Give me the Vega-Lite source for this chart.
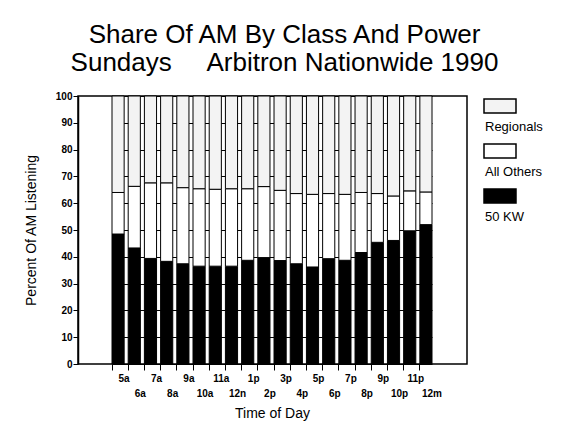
{
  "$schema": "https://vega.github.io/schema/vega-lite/v6.json",
  "width": 389,
  "height": 268,
  "autosize": {"type": "none"},
  "padding": {"left": 78, "top": 96, "right": 110, "bottom": 66},
  "background": "white",
  "config": {
    "font": "Liberation Sans",
    "view": {"stroke": "black", "strokeWidth": 1.5}
  },
  "title": {
    "text": ["Share Of AM By Class And Power", "Sundays\u00a0\u00a0\u00a0\u00a0 Arbitron Nationwide 1990"],
    "fontSize": 26,
    "font": "Liberation Sans",
    "fontWeight": "normal",
    "lineHeight": 28,
    "anchor": "middle",
    "dx": 12,
    "offset": 13,
    "color": "black"
  },
  "data": {
    "values": [
      {"time": "5a", "cls": "50 KW", "pct": 48.5}, {"time": "5a", "cls": "All Others", "pct": 15.5}, {"time": "5a", "cls": "Regionals", "pct": 36.0},
      {"time": "6a", "cls": "50 KW", "pct": 43.3}, {"time": "6a", "cls": "All Others", "pct": 23.0}, {"time": "6a", "cls": "Regionals", "pct": 33.7},
      {"time": "7a", "cls": "50 KW", "pct": 39.4}, {"time": "7a", "cls": "All Others", "pct": 28.2}, {"time": "7a", "cls": "Regionals", "pct": 32.4},
      {"time": "8a", "cls": "50 KW", "pct": 38.3}, {"time": "8a", "cls": "All Others", "pct": 29.3}, {"time": "8a", "cls": "Regionals", "pct": 32.4},
      {"time": "9a", "cls": "50 KW", "pct": 37.4}, {"time": "9a", "cls": "All Others", "pct": 28.4}, {"time": "9a", "cls": "Regionals", "pct": 34.2},
      {"time": "10a", "cls": "50 KW", "pct": 36.5}, {"time": "10a", "cls": "All Others", "pct": 28.9}, {"time": "10a", "cls": "Regionals", "pct": 34.6},
      {"time": "11a", "cls": "50 KW", "pct": 36.5}, {"time": "11a", "cls": "All Others", "pct": 28.7}, {"time": "11a", "cls": "Regionals", "pct": 34.8},
      {"time": "12n", "cls": "50 KW", "pct": 36.5}, {"time": "12n", "cls": "All Others", "pct": 28.9}, {"time": "12n", "cls": "Regionals", "pct": 34.6},
      {"time": "1p", "cls": "50 KW", "pct": 38.7}, {"time": "1p", "cls": "All Others", "pct": 26.7}, {"time": "1p", "cls": "Regionals", "pct": 34.6},
      {"time": "2p", "cls": "50 KW", "pct": 39.7}, {"time": "2p", "cls": "All Others", "pct": 26.5}, {"time": "2p", "cls": "Regionals", "pct": 33.8},
      {"time": "3p", "cls": "50 KW", "pct": 38.6}, {"time": "3p", "cls": "All Others", "pct": 26.2}, {"time": "3p", "cls": "Regionals", "pct": 35.2},
      {"time": "4p", "cls": "50 KW", "pct": 37.4}, {"time": "4p", "cls": "All Others", "pct": 26.2}, {"time": "4p", "cls": "Regionals", "pct": 36.4},
      {"time": "5p", "cls": "50 KW", "pct": 36.2}, {"time": "5p", "cls": "All Others", "pct": 27.1}, {"time": "5p", "cls": "Regionals", "pct": 36.7},
      {"time": "6p", "cls": "50 KW", "pct": 39.3}, {"time": "6p", "cls": "All Others", "pct": 24.3}, {"time": "6p", "cls": "Regionals", "pct": 36.4},
      {"time": "7p", "cls": "50 KW", "pct": 38.7}, {"time": "7p", "cls": "All Others", "pct": 24.6}, {"time": "7p", "cls": "Regionals", "pct": 36.7},
      {"time": "8p", "cls": "50 KW", "pct": 41.6}, {"time": "8p", "cls": "All Others", "pct": 22.4}, {"time": "8p", "cls": "Regionals", "pct": 36.0},
      {"time": "9p", "cls": "50 KW", "pct": 45.4}, {"time": "9p", "cls": "All Others", "pct": 18.2}, {"time": "9p", "cls": "Regionals", "pct": 36.4},
      {"time": "10p", "cls": "50 KW", "pct": 46.1}, {"time": "10p", "cls": "All Others", "pct": 16.6}, {"time": "10p", "cls": "Regionals", "pct": 37.3},
      {"time": "11p", "cls": "50 KW", "pct": 49.7}, {"time": "11p", "cls": "All Others", "pct": 14.9}, {"time": "11p", "cls": "Regionals", "pct": 35.4},
      {"time": "12m", "cls": "50 KW", "pct": 52.0}, {"time": "12m", "cls": "All Others", "pct": 12.2}, {"time": "12m", "cls": "Regionals", "pct": 35.8}
    ]
  },
  "mark": {"type": "bar", "stroke": "black", "strokeWidth": 1},
  "encoding": {
    "x": {
      "field": "time",
      "type": "nominal",
      "sort": null,
      "scale": {"paddingInner": 0.25, "paddingOuter": 0, "range": [34, 354]},
      "axis": {
        "title": "Time of Day",
        "bandPosition": 0,
        "labelAngle": 0,
        "labelOverlap": false,
        "domain": false,
        "ticks": true,
        "tickSize": 6,
        "tickColor": "black",
        "tickWidth": 1,
        "labelFontSize": 10,
        "labelFontWeight": "bold",
        "labelColor": "black",
        "labelOffset": 6,
        "labelBaseline": "top",
        "labelPadding": {
          "condition": {"test": "indexof(['6a','8a','10a','12n','2p','4p','6p','8p','10p','12m'], datum.value) >= 0", "value": 18},
          "value": 3
        },
        "titleFontSize": 14,
        "titleFontWeight": "normal",
        "titleColor": "black",
        "titlePadding": 8
      }
    },
    "y": {
      "field": "pct",
      "type": "quantitative",
      "stack": "zero",
      "scale": {"domain": [0, 100], "nice": false},
      "axis": {
        "title": "Percent Of AM Listening",
        "values": [0, 10, 20, 30, 40, 50, 60, 70, 80, 90, 100],
        "grid": true,
        "gridColor": "black",
        "gridWidth": 1,
        "gridOpacity": 1,
        "domainColor": "black",
        "domainWidth": 1.5,
        "tickColor": "black",
        "tickSize": 5,
        "labelFontSize": 10,
        "labelFontWeight": "bold",
        "labelColor": "black",
        "labelPadding": 1,
        "titleFontSize": 14,
        "titleFontWeight": "normal",
        "titleColor": "black",
        "titleAngle": -90,
        "titleX": -47,
        "titleY": 134,
        "titleBaseline": "middle",
        "titleAlign": "center"
      }
    },
    "color": {
      "field": "cls",
      "type": "nominal",
      "scale": {"domain": ["Regionals", "All Others", "50 KW"], "range": ["#f3f3f3", "#ffffff", "#000000"]},
      "legend": {
        "orient": "none",
        "legendX": 405,
        "legendY": -7,
        "title": null,
        "padding": 0,
        "symbolType": "M-1,-0.44H1V0.44H-1Z",
        "symbolSize": 1024,
        "symbolStrokeColor": "black",
        "symbolStrokeWidth": 1.5,
        "symbolOpacity": 1,
        "labelFontSize": 13,
        "labelColor": "black",
        "labelOffset": 0,
        "labelBaseline": "middle",
        "rowPadding": -1,
        "encode": {"labels": {"update": {"dx": {"value": -32}, "dy": {"value": 21}}}}
      }
    },
    "order": {"field": "cls", "sort": "ascending"}
  }
}
